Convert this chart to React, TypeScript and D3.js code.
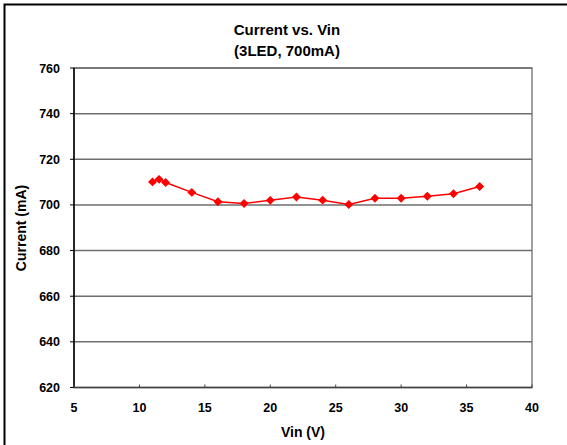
import React from "react";
import * as d3 from "d3";

const vin = [11, 11.5, 12, 14, 16, 18, 20, 22, 24, 26, 28, 30, 32, 34, 36];
const current = [710.1, 711.2, 709.8, 705.5, 701.4, 700.6, 702, 703.5, 702.1, 700.2, 702.9, 702.9, 703.8, 704.9, 708.1];
const xTicks = [5, 10, 15, 20, 25, 30, 35, 40];
const yTicks = [620, 640, 660, 680, 700, 720, 740, 760];

const W = 567;
const H = 445;
const left = 74;
const right = 532;
const top = 68;
const bottom = 387.5;
const font = "'Liberation Sans', Arial, sans-serif";

export default function App() {
  const x = d3.scaleLinear().domain([5, 40]).range([left, right]);
  const y = d3.scaleLinear().domain([620, 760]).range([bottom, top]);
  const pts = vin.map((v, i) => [x(v), y(current[i])] as [number, number]);
  const line = d3.line()(pts) || "";
  const diamond = d3.symbol().type(d3.symbolSquare).size(40)() || "";

  return (
    <svg width={W} height={H} style={{ position: "absolute", left: 0, top: 0, background: "#fff" }} fontFamily={font}>
      <rect x={4.5} y={4.5} width={700} height={700} fill="#fff" stroke="#000" strokeWidth={2} />
      <text x={287} y={35} textAnchor="middle" fontSize={15} fontWeight="bold">Current vs. Vin</text>
      <text x={287} y={56} textAnchor="middle" fontSize={15} fontWeight="bold">(3LED, 700mA)</text>
      <rect x={left} y={top} width={right - left} height={bottom - top} fill="none" stroke="#808080" strokeWidth={1.5} />
      {yTicks.slice(1).map((t) => (
        <line key={t} x1={left} x2={right} y1={y(t)} y2={y(t)} stroke="#6e6e6e" strokeWidth={1.5} />
      ))}
      <line x1={left} x2={left} y1={top} y2={bottom} stroke="#000" strokeWidth={1.5} />
      <line x1={left} x2={right} y1={bottom} y2={bottom} stroke="#404040" strokeWidth={1.5} />
      {yTicks.map((t) => (
        <g key={t}>
          <line x1={left - 4} x2={left} y1={y(t)} y2={y(t)} stroke="#000" strokeWidth={1} />
          <text x={60} y={y(t) + 4.5} textAnchor="end" fontSize={12.5} fontWeight="bold">{t}</text>
        </g>
      ))}
      {xTicks.map((t) => (
        <g key={t}>
          <line x1={x(t)} x2={x(t)} y1={bottom - 3} y2={bottom} stroke="#404040" strokeWidth={1} />
          <text x={x(t)} y={412} textAnchor="middle" fontSize={12.5} fontWeight="bold">{t}</text>
        </g>
      ))}
      <text x={303} y={437} textAnchor="middle" fontSize={14} fontWeight="bold">Vin (V)</text>
      <text transform="translate(26,228) rotate(-90)" textAnchor="middle" fontSize={14} fontWeight="bold">Current (mA)</text>
      <path d={line} fill="none" stroke="#ff0000" strokeWidth={1.5} />
      {pts.map((p, i) => (
        <path key={i} d={diamond} transform={`translate(${p[0]},${p[1]}) rotate(45)`} fill="#ff0000" />
      ))}
    </svg>
  );
}
